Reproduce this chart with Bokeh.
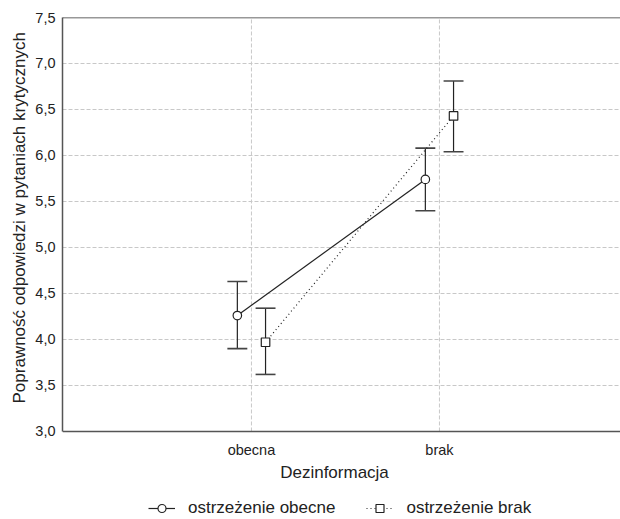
from bokeh.plotting import figure
from bokeh.models import (LinearAxis, FixedTicker, CustomJSTickFormatter, Legend, LegendItem,
                          Range1d, ColumnDataSource, Span, Title)
from bokeh.core.properties import value
from bokeh.embed import file_html
from bokeh.resources import INLINE

categories = ["obecna", "brak"]
series_names = ["ostrzeżenie obecne", "ostrzeżenie brak"]
mean_obecne = [4.26, 5.74]
low_obecne = [3.90, 5.40]
high_obecne = [4.63, 6.08]
mean_brak = [3.97, 6.43]
low_brak = [3.62, 6.04]
high_brak = [4.34, 6.81]
y_ticks = [3.0, 3.5, 4.0, 4.5, 5.0, 5.5, 6.0, 6.5, 7.0, 7.5]
x_title = "Dezinformacja"
y_title = "Poprawność odpowiedzi w pytaniach krytycznych"

FONT = "Liberation Sans"
INK = "#222222"
AXIS = "#555555"

x_start, x_end = -1.005, 1.963
y_min, y_max = y_ticks[0], y_ticks[-1]
p = figure(width=620, height=519, output_backend="svg", toolbar_location=None,
           x_range=Range1d(x_start, x_end), y_range=Range1d(2.043, y_max),
           min_border_left=62, min_border_top=17, min_border_right=0, min_border_bottom=0,
           x_axis_location=None, y_axis_location=None)
p.outline_line_color = None
p.background_fill_color = "white"
p.border_fill_color = "white"

# y axis
ya = LinearAxis(ticker=FixedTicker(ticks=y_ticks), bounds=(y_min, y_max),
                formatter=CustomJSTickFormatter(code="return tick.toFixed(1).replace('.', ',');"))
ya.major_tick_in = 0
ya.major_tick_out = 0
ya.minor_tick_line_color = None
ya.axis_line_color = AXIS
ya.axis_line_width = 1.5
ya.major_label_text_font = FONT
ya.major_label_text_font_size = "14.5px"
ya.major_label_text_color = INK
ya.major_label_standoff = 7
p.add_layout(ya, "left")

yt = Title(text=y_title, align="left", offset=116, standoff=7,
           text_font=FONT, text_font_size="17px", text_font_style="normal", text_color=INK)
p.add_layout(yt, "left")

# top border and x axis line
p.add_layout(Span(location=y_max, dimension="width", line_color="#333333", line_width=1.5))
p.add_layout(Span(location=y_min, dimension="width", line_color=AXIS, line_width=1.5))

# grids
p.xgrid.grid_line_color = None
p.ygrid.ticker = FixedTicker(ticks=y_ticks[1:-1])
p.ygrid.grid_line_color = "#c8c8c8"
p.ygrid.grid_line_dash = "4 2"
cat_x = list(range(len(categories)))
vg = ColumnDataSource(dict(x=cat_x, y0=[y_min] * len(cat_x), y1=[y_max] * len(cat_x)))
p.segment(x0="x", y0="y0", x1="x", y1="y1", source=vg, line_color="#c8c8c8",
          line_dash="4 2", line_width=1, level="underlay")

# x tick labels and title
tl = ColumnDataSource(dict(x=cat_x, y=[y_min] * len(cat_x), t=categories))
p.text(x="x", y="y", text="t", source=tl, y_offset=11, text_align="center",
       text_baseline="top", text_font=value(FONT), text_font_size="14.5px", text_color=INK)
p.text(x=[(x_start + x_end) / 2], y=[y_min], text=[x_title], x_offset=-7, y_offset=32,
       text_align="center", text_baseline="top", text_font=value(FONT),
       text_font_size="17px", text_color=INK)

offset = 0.075
cap = 0.053
items = []
specs = [
    (mean_obecne, low_obecne, high_obecne, -offset, "solid", "circle", series_names[0]),
    (mean_brak, low_brak, high_brak, offset, "1 3", "square", series_names[1]),
]
for mean, lo, hi, off, dash, marker, name in specs:
    xs = [i + off for i in cat_x]
    src = ColumnDataSource(dict(x=xs, y=mean, lo=lo, hi=hi,
                                x0=[x - cap for x in xs], x1=[x + cap for x in xs]))
    r_line = p.line("x", "y", source=src, line_color=INK, line_width=1.2, line_dash=dash)
    p.segment(x0="x", y0="lo", x1="x", y1="hi", source=src, line_color=INK, line_width=1.2)
    p.segment(x0="x0", y0="hi", x1="x1", y1="hi", source=src, line_color="#444444", line_width=1.6)
    p.segment(x0="x0", y0="lo", x1="x1", y1="lo", source=src, line_color="#444444", line_width=1.6)
    r_m = p.scatter("x", "y", source=src, marker=marker, size=8.5, fill_color="white",
                    line_color=INK, line_width=1.2)
    items.append(LegendItem(label=name, renderers=[r_line, r_m]))

legend = Legend(items=items, orientation="horizontal", location=(86, 1))
legend.label_text_font = FONT
legend.label_text_font_size = "17px"
legend.label_text_color = INK
legend.border_line_color = None
legend.background_fill_alpha = 0
legend.spacing = 31
legend.glyph_width = 27
legend.glyph_height = 20
legend.label_height = 20
legend.label_standoff = 13
legend.margin = 0
legend.padding = 0
p.add_layout(legend, "center")

open("out.html", "w").write(file_html(p, INLINE))
